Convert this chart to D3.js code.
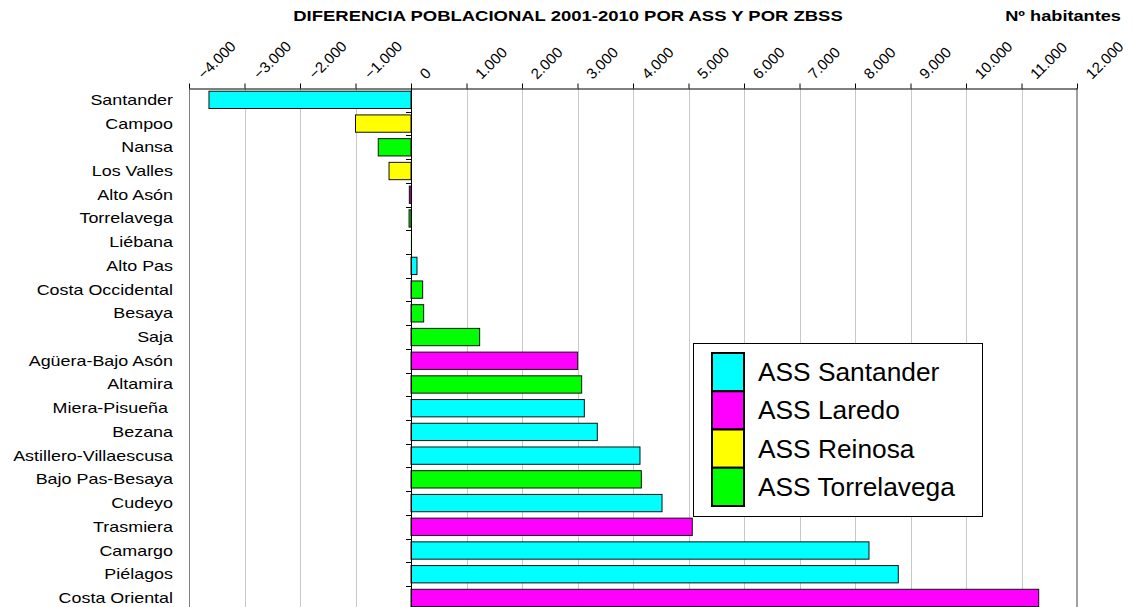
<!DOCTYPE html>
<html>
<head>
<meta charset="utf-8">
<script src="https://cdn.jsdelivr.net/npm/d3@7"></script>
<style>
  body { margin: 0; background: #fff; }
  svg { display: block; font-family: "Liberation Sans", Arial, sans-serif; }
  text { white-space: pre; }
</style>
</head>
<body>
<div id="chart"></div>
<script>
//zonas basicas (ZBSS), de arriba abajo
const zones = ["Santander", "Campoo", "Nansa", "Los Valles", "Alto Asón", "Torrelavega", "Liébana",
    "Alto Pas", "Costa Occidental", "Besaya", "Saja", "Agüera-Bajo Asón", "Altamira", "Miera-Pisueña ",
    "Bezana", "Astillero-Villaescusa", "Bajo Pas-Besaya", "Cudeyo", "Trasmiera", "Camargo", "Piélagos",
    "Costa Oriental"];
//diferencia 2001-2010 (habitantes)
const diffs = [-3640, -1000, -590, -396, -30, -35, -3,
    108, 210, 228, 1237, 3003, 3075, 3123,
    3357, 4126, 4150, 4523, 5068, 8252, 8780,
    11310];
//area de servicios sociales de cada zona
const zoneAss = ["Santander", "Reinosa", "Torrelavega", "Reinosa", "Laredo", "Torrelavega", "Torrelavega",
    "Santander", "Torrelavega", "Torrelavega", "Torrelavega", "Laredo", "Torrelavega", "Santander",
    "Santander", "Santander", "Torrelavega", "Santander", "Laredo", "Santander", "Santander",
    "Laredo"];
const assNames = ["Santander", "Laredo", "Reinosa", "Torrelavega"];
const assColors = ["#00ffff", "#ff00ff", "#ffff00", "#00ff00"];
const xTicks = [-4000, -3000, -2000, -1000, 0, 1000, 2000, 3000, 4000, 5000, 6000, 7000, 8000, 9000, 10000, 11000, 12000];

const W = 1133, H = 607;
const stretch = 1.28; //the original text is wide

const svg = d3.select("#chart").append("svg")
    .attr("width", W)
    .attr("height", H);

const x = d3.scaleLinear().domain([-4000, 12000]).range([189, 1077]);
const y = d3.scaleBand().domain(zones).range([88, 609.8]).paddingInner(0.27).paddingOuter(0.135);
const color = d3.scaleOrdinal().domain(assNames).range(assColors);
const fmt = d => d3.format(",")(d).replace(/,/g, ".");

//gridlines
svg.append("g")
    .selectAll("line")
    .data(xTicks.filter(d => d !== -4000 && d !== 0 && d !== 12000))
    .join("line")
    .attr("x1", d => Math.round(x(d)) + 0.5)
    .attr("x2", d => Math.round(x(d)) + 0.5)
    .attr("y1", 88)
    .attr("y2", H)
    .attr("stroke", "#c8c8c8");

//plot borders
svg.append("line")
    .attr("x1", 189.5).attr("x2", 189.5).attr("y1", 88).attr("y2", H)
    .attr("stroke", "#808080");
svg.append("line")
    .attr("x1", 1077).attr("x2", 1077).attr("y1", 88).attr("y2", H)
    .attr("stroke", "#a0a0a0").attr("stroke-width", 2);

//top axis
const xAxis = svg.append("g")
    .attr("transform", "translate(0,88.5)")
    .call(d3.axisTop(x).tickValues(xTicks).tickSize(5).tickSizeOuter(0).tickFormat(""));
xAxis.select(".domain").attr("stroke", "#000");
xAxis.selectAll(".tick line").attr("stroke", "#000");

svg.append("g")
    .selectAll("text")
    .data(xTicks)
    .join("text")
    .attr("transform", d => `translate(${x(d) + 15},80) rotate(-45)`)
    .attr("font-size", 15)
    .attr("fill", "#000")
    .text(fmt);

//bars
svg.append("g")
    .selectAll("rect")
    .data(zones)
    .join("rect")
    .attr("x", (d, i) => x(Math.min(0, diffs[i])))
    .attr("y", d => y(d))
    .attr("width", (d, i) => Math.abs(x(diffs[i]) - x(0)))
    .attr("height", y.bandwidth())
    .attr("fill", (d, i) => color(zoneAss[i]))
    .attr("stroke", (d, i) => diffs[i] === -3 ? "none" : "#111")
    .attr("stroke-width", 1);

//vertical axis at zero with ticks between categories
const step = y.step();
svg.append("line")
    .attr("x1", Math.round(x(0)) + 0.5).attr("x2", Math.round(x(0)) + 0.5)
    .attr("y1", 88).attr("y2", H)
    .attr("stroke", "#000");
svg.append("g")
    .selectAll("line")
    .data(d3.range(1, zones.length))
    .join("line")
    .attr("x1", Math.round(x(0)) - 5)
    .attr("x2", Math.round(x(0)))
    .attr("y1", i => Math.round(88 + i * step) + 0.5)
    .attr("y2", i => Math.round(88 + i * step) + 0.5)
    .attr("stroke", "#000");

//category labels
svg.append("g")
    .selectAll("text")
    .data(zones)
    .join("text")
    .attr("transform", d => `translate(173,${y(d) + y.bandwidth() / 2 + 5}) scale(${stretch},1)`)
    .attr("text-anchor", "end")
    .attr("font-size", 14)
    .attr("fill", "#000")
    .text(d => d);

//titles
svg.append("text")
    .attr("transform", `translate(568,21) scale(1.32,1)`)
    .attr("text-anchor", "middle")
    .attr("font-size", 14)
    .attr("font-weight", "bold")
    .text("DIFERENCIA POBLACIONAL 2001-2010 POR ASS Y POR ZBSS");
svg.append("text")
    .attr("transform", `translate(1121,21) scale(1.3,1)`)
    .attr("text-anchor", "end")
    .attr("font-size", 14)
    .attr("font-weight", "bold")
    .text("Nº habitantes");

//legend
const legend = svg.append("g").attr("transform", "translate(693,343)");
legend.append("rect")
    .attr("x", 0.5).attr("y", 0.5)
    .attr("width", 289).attr("height", 173)
    .attr("fill", "#fff")
    .attr("stroke", "#000");
const sw = 38.25;
assNames.forEach((name, i) => {
    legend.append("rect")
        .attr("x", 19)
        .attr("y", 10 + i * sw)
        .attr("width", 32)
        .attr("height", sw)
        .attr("fill", color(name))
        .attr("stroke", "#000")
        .attr("stroke-width", 2);
    legend.append("text")
        .attr("x", 65)
        .attr("y", 10 + i * sw + sw / 2 + 9)
        .attr("font-size", 26.3)
        .attr("fill", "#000")
        .text("ASS " + name);
});
</script>
</body>
</html>
